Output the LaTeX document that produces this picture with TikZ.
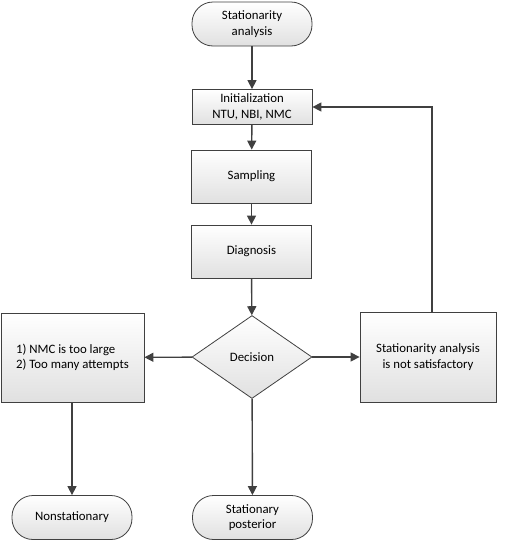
\documentclass[tikz,border=0pt]{standalone}
\usepackage{fontspec}
\setmainfont{Carlito}
\usetikzlibrary{shapes.geometric,arrows.meta}
\definecolor{edge}{HTML}{404040}
\tikzset{
  x=1pt,y=-1pt,
  base/.style={draw=edge,line width=0.8pt,top color=white,bottom color=black!12,
    font=\fontsize{12.8}{15.5}\selectfont,align=center,inner sep=2pt},
  term/.style={base,rectangle,rounded corners=21pt,minimum width=120pt,minimum height=44pt},
  proc/.style={base,rectangle,minimum width=120pt},
  dec/.style={base,diamond,inner sep=0pt,minimum width=120pt,minimum height=83pt},
  arr/.style={draw=edge,line width=1.4pt,-{Triangle[length=9pt,width=9pt]}}
}
\begin{document}
\begin{tikzpicture}
\useasboundingbox (0,0) rectangle (506,544);
\node[term] (start) at (252,24) {Stationarity\\analysis};
\node[proc,minimum height=35pt] (init) at (252,107) {Initialization\\NTU, NBI, NMC};
\node[proc,minimum height=53pt] (samp) at (251.5,176.5) {Sampling};
\node[proc,minimum height=53pt] (diag) at (251.5,251.5) {Diagnosis};
\node[dec] (dec) at (252,357) {Decision};
\node[base,rectangle,minimum width=136pt,minimum height=90pt] (right) at (428,357) {Stationarity analysis\\is not satisfactory};
\node[base,rectangle,align=left,minimum width=143pt,minimum height=89pt] (left) at (72.5,357.5) {1) NMC is too large\\2) Too many attempts};
\node[term] (nonst) at (72,517.5) {Nonstationary};
\node[term] (post) at (252.5,517.5) {Stationary\\posterior};
\coordinate (rtop) at (432,312);
\coordinate (corner) at (432,107);
\draw[arr] (start) -- (init);
\draw[arr] (init) -- (samp);
\draw[arr] (samp) -- (diag);
\draw[arr] (diag) -- (dec);
\draw[arr] (dec) -- (left);
\draw[arr] (dec) -- (right);
\draw[arr] (dec) -- (post);
\draw[arr] (left.south -| nonst) -- (nonst);
\draw[arr] (rtop) -- (corner) -- (init.east);
\end{tikzpicture}
\end{document}
